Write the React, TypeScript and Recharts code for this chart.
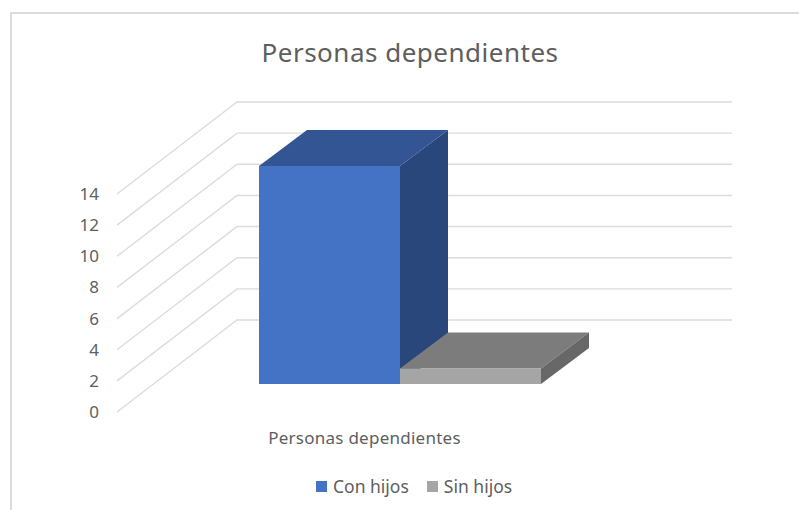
import React from "react";
import { Bar, BarChart, CartesianGrid, Legend, XAxis, YAxis } from "recharts";

const categories = ["Personas dependientes"];
const conHijos = [14];
const sinHijos = [1];
const yTicks = [0, 2, 4, 6, 8, 10, 12, 14];

const data = categories.map((name, i) => ({
  name,
  "Con hijos": conHijos[i],
  "Sin hijos": sinHijos[i],
}));

const FONT = "'Noto Sans', sans-serif";
const TEXT = "#5E5E5E";
const GRID = "#DCDCDC";

// fake 3D: floor depth of the chart box and how far the bars sit inside it
const WALL_DX = 120;
const WALL_DY = -92;
const BAR_SHIFT_X = 35;
const BAR_SHIFT_Y = -28;
const BAR_DX = 48;
const BAR_DY = -36;

function GridLine({ x1, x2, y1 }: any) {
  return (
    <polyline
      points={`${x1},${y1} ${x1 + WALL_DX},${y1 + WALL_DY} ${x2 + WALL_DX},${y1 + WALL_DY}`}
      fill="none"
      stroke={GRID}
      strokeWidth={1.4}
    />
  );
}

function makeBox(front: string, top: string, side: string) {
  return function Box({ x, y, width, height }: any) {
    const l = x + BAR_SHIFT_X;
    const r = l + width;
    const t = y + BAR_SHIFT_Y;
    const b = t + height;
    return (
      <g>
        <polygon
          points={`${l},${t} ${l + BAR_DX},${t + BAR_DY} ${r + BAR_DX},${t + BAR_DY} ${r},${t}`}
          fill={top}
        />
        <polygon
          points={`${r},${t} ${r + BAR_DX},${t + BAR_DY} ${r + BAR_DX},${b + BAR_DY} ${r},${b}`}
          fill={side}
        />
        <rect x={l} y={t} width={width} height={height} fill={front} />
      </g>
    );
  };
}

function LegendItems({ payload }: any) {
  return (
    <div style={{ display: "flex", alignItems: "center", fontFamily: FONT, fontSize: 17.5, color: TEXT }}>
      {(payload || []).map((p: any) => (
        <div key={p.value} style={{ display: "flex", alignItems: "center", marginRight: 18 }}>
          <span style={{ width: 11, height: 11, background: p.color, marginRight: 6 }} />
          {p.value}
        </div>
      ))}
    </div>
  );
}

export default function App() {
  return (
    <div style={{ position: "absolute", left: 0, top: 0, width: 799, height: 510, background: "#fff", overflow: "hidden" }}>
      <div
        style={{
          position: "absolute",
          left: 10,
          top: 12,
          width: 800,
          height: 510,
          borderLeft: `2px solid ${GRID}`,
          borderTop: `2px solid ${GRID}`,
        }}
      />
      <div
        style={{
          position: "absolute",
          left: 0,
          top: 34,
          width: 820,
          textAlign: "center",
          fontFamily: FONT,
          fontSize: 26,
          letterSpacing: 0.5,
          lineHeight: "36px",
          color: TEXT,
        }}
      >
        Personas dependientes
      </div>
      <BarChart
        width={799}
        height={510}
        data={data}
        barSize={141}
        barGap={0}
        margin={{ top: 194, right: 187, bottom: 0, left: 0 }}
        style={{ position: "absolute", left: 0, top: 0 }}
      >
        <CartesianGrid horizontal={(props: any) => <GridLine key={props.index} {...props} />} vertical={false} />
        <XAxis
          dataKey="name"
          axisLine={false}
          tickLine={false}
          height={58}
          tickMargin={14}
          tick={{ fontFamily: FONT, fontSize: 17, letterSpacing: 0.25, fill: TEXT }}
        />
        <YAxis
          width={117}
          domain={[0, 14]}
          ticks={yTicks}
          interval={0}
          axisLine={false}
          tickLine={false}
          tickMargin={12}
          tick={{ fontFamily: FONT, fontSize: 17, fill: TEXT }}
        />
        <Legend
          content={<LegendItems />}
          height={40}
          wrapperStyle={{ left: 316, bottom: -4, width: 260 }}
        />
        <Bar dataKey="Con hijos" fill="#4472C4" isAnimationActive={false} shape={makeBox("#4472C4", "#335593", "#2A477B")} />
        <Bar dataKey="Sin hijos" fill="#A5A5A5" isAnimationActive={false} shape={makeBox("#A5A5A5", "#7C7C7C", "#676767")} />
      </BarChart>
    </div>
  );
}
